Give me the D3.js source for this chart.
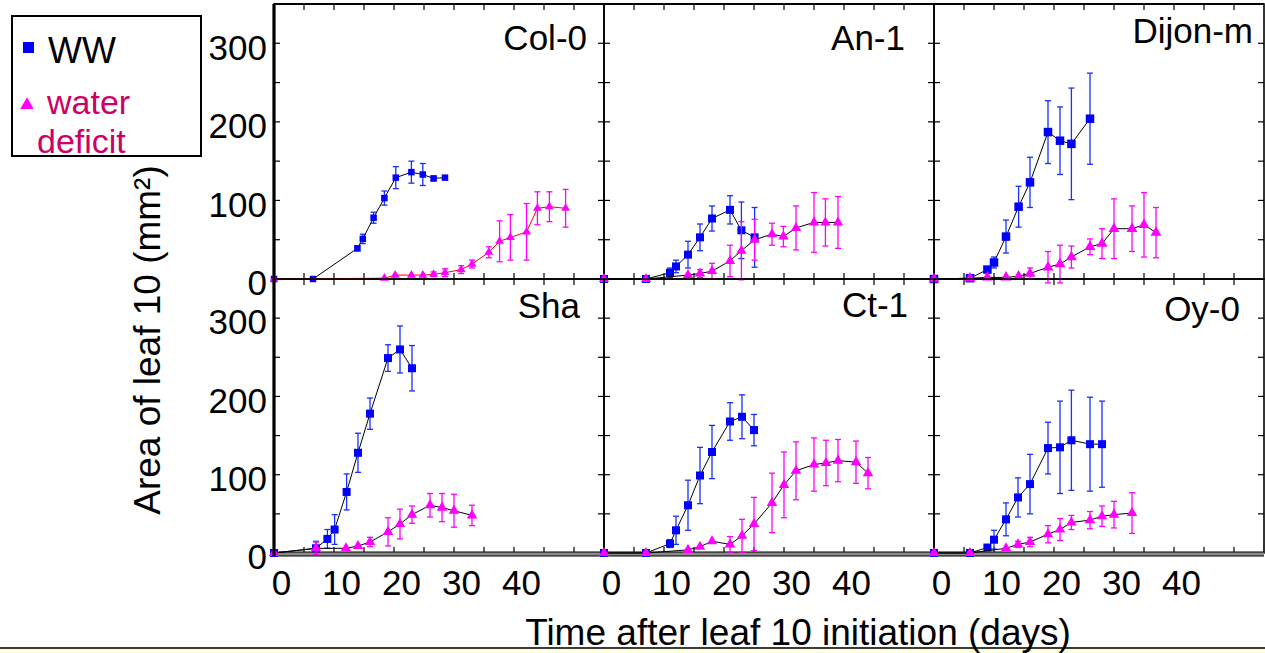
<!DOCTYPE html>
<html>
<head>
<meta charset="utf-8">
<script src="https://cdn.jsdelivr.net/npm/d3@7"></script>
<style>
  html, body { margin: 0; padding: 0; background: #fff; }
  svg { display: block; font-family: "Liberation Sans", Arial, Helvetica, sans-serif; }
</style>
</head>
<body>
<svg id="chart" width="1265" height="653"></svg>
<script>
// Leaf 10 area (mm²) over time after initiation (days), mean and SD,
// for six Arabidopsis accessions under well-watered (WW) and water-deficit conditions.
// Each row: [day, mean area, sd]
const genotypes = ["Col-0", "An-1", "Dijon-m", "Sha", "Ct-1", "Oy-0"];

const col0WW = [[0,0,0],[6.5,0,0],[13.9,39,3],[14.8,51,6],[16.6,78,7],[18.4,103,9],[20.3,129,14],[22.9,136,14],[24.8,133,14],[26.6,128,3],[28.5,129,0]];
const col0WD = [[0,0,0],[18.4,1,0],[20.2,5,0],[22.9,5,0],[24.8,5,0],[26.6,6,3],[28.5,8,5],[31.2,12,5],[33,19,5],[35.8,34,7],[37.6,48,26],[39.4,53,29],[42.1,60,36],[43.9,90,21],[45.9,92,19],[48.6,90,24]];

const an1WW = [[0,0,0],[7,0,0],[11,8,6],[12,16,8],[14,31,17],[16,53,17],[18,77,16],[21,88,18],[22.9,62,36],[25.1,53,38]];
const an1WD = [[0,0,0],[7,0,0],[14,5,0],[16,7,5],[18,10,10],[21,23,20],[22.9,36,37],[25.1,50,26],[28,57,14],[29.9,54,13],[32,65,28],[35,72,38],[36.9,72,30],[39,72,33]];

const dijonWW = [[0,0,0],[6,1,0],[8.9,12,3],[10,21,7],[12,54,21],[14.1,92,26],[16,123,32],[19,187,40],[21,176,43],[22.9,172,71],[26,204,58]];
const dijonWD = [[0,0,0],[6,1,0],[8.9,2,0],[12,2,0],[14.1,3.5,0],[16,7,7],[19,15,20],[21,19,24],[22.9,28,14],[26,41,10],[28,45,19],[30,64,38],[33,64,29],[35,69,41],[37,59,32]];

const shaWW = [[0,0,0],[7,6,9],[8.9,18,12],[10.1,30,19],[12.1,78,23],[14,128,25],[16,178,20],[19,249,17],[21,260,30],[23,236,29]];
const shaWD = [[0,0,0],[7,6,8],[12,6,0],[14,9,0],[16,14,6],[19,27,18],[21,37,19],[23,49,11],[26,61,15],[28,58,18],[30,54,21],[33,48,13]];

const ct1WW = [[0,0,0],[7,0,0],[11,12,5],[12,29,18],[14,61,32],[16,99,36],[18,129,34],[21,168,24],[23,174,28],[25,157,20]];
const ct1WD = [[0,0,0],[7,0,0],[14,4,0],[16,8,0],[18,15,0],[21,11,10],[23,22,21],[25,37,34],[28,64,38],[30,87,42],[32,105,37],[35,113,34],[37,115,29],[39,118,27],[42,116,27],[44,102,20]];

const oy0WW = [[0,0,0],[6,0,0],[8.9,7,0],[10,17,12],[12,43,21],[14,71,25],[16,88,38],[19,134,33],[21,135,59],[22.9,144,64],[26,139,60],[28,139,55]];
const oy0WD = [[0,0,0],[6,0,0],[12,6,0],[14,11,4],[16,14,6],[19,24,11],[21,30,14],[22.9,39,9],[26,42,11],[28,47,13],[30,49,17],[33,51,26]];

const wwSeries = [col0WW, an1WW, dijonWW, shaWW, ct1WW, oy0WW];
const wdSeries = [col0WD, an1WD, dijonWD, shaWD, ct1WD, oy0WD];

const xTickLabels = [0, 10, 20, 30, 40];
const yTickLabels = [0, 100, 200, 300];
const legendLabels = ["WW", "water", "deficit"];
const xTitle = "Time after leaf 10 initiation (days)";
const yTitle = "Area of leaf 10 (mm²)";

// ---- layout ----
const W = 1265, H = 653;
const plotLeft = 274, panelW = 330;
const rowTop = [4, 279], rowBottom = [279, 553];
const xDomain = [0, 55], yDomain = [0, 350];

const blue = "#0000ff", blueBar = "#1830ff";
const pink = "#ff00ff";
const legendPink = "#cc0066";

// title placement within each panel: [inset from right edge, baseline below panel top]
const titlePlace = [[17, 46], [29, 46], [11, 39], [24, 39], [26, 38], [24, 42]];
// marker sizes: Col-0 is drawn with smaller markers
const squareSize = [6.5, 8, 8.5, 8, 8, 8];
const triSize = [34, 46, 52, 48, 48, 48];
const wdLineColor = ["#ff0000", "#000", "#000", "#000", "#000", "#000"];

const svg = d3.select("#chart");

svg.append("rect").attr("width", W).attr("height", H).attr("fill", "#fff");

// bottom strip
svg.append("rect").attr("x", 0).attr("y", 648).attr("width", W).attr("height", 5).attr("fill", "#ffffdc");
svg.append("line").attr("x1", 0).attr("x2", W).attr("y1", 648).attr("y2", 648)
  .attr("stroke", "#3a3a3a").attr("stroke-width", 2);

genotypes.forEach((name, i) => {
  const col = i % 3, row = Math.floor(i / 3);
  const x0 = plotLeft + col * panelW, x1 = x0 + panelW;
  const y0 = rowTop[row], y1 = rowBottom[row];
  const x = d3.scaleLinear().domain(xDomain).range([x0, x1]);
  const y = d3.scaleLinear().domain(yDomain).range([y1, y0]);
  const g = svg.append("g").attr("class", "panel");

  // frame
  g.append("rect").attr("x", x0).attr("y", y0).attr("width", panelW).attr("height", y1 - y0)
    .attr("fill", "none").attr("stroke", "#000").attr("stroke-width", 1.6);

  // inward tick marks on all sides
  const tk = 6;
  y.ticks(7).filter(v => v > yDomain[0] && v < yDomain[1]).forEach(v => {
    g.append("line").attr("x1", x0).attr("x2", x0 + tk).attr("y1", y(v)).attr("y2", y(v)).attr("stroke", "#000").attr("stroke-width", 1.2);
    g.append("line").attr("x1", x1 - tk).attr("x2", x1).attr("y1", y(v)).attr("y2", y(v)).attr("stroke", "#000").attr("stroke-width", 1.2);
  });
  x.ticks(12).filter(v => v > xDomain[0] && v < xDomain[1]).forEach(v => {
    g.append("line").attr("x1", x(v)).attr("x2", x(v)).attr("y1", y0).attr("y2", y0 + tk).attr("stroke", "#000").attr("stroke-width", 1.2);
    g.append("line").attr("x1", x(v)).attr("x2", x(v)).attr("y1", y1 - tk).attr("y2", y1 + (row === 1 ? 3 : 0)).attr("stroke", "#000").attr("stroke-width", 1.2);
  });

  // bottom row: heavy baseline
  if (row === 1) {
    g.append("line").attr("x1", x0).attr("x2", x1).attr("y1", y1 + 1).attr("y2", y1 + 1)
      .attr("stroke", "#8a8a8a").attr("stroke-width", 4);
    g.append("line").attr("x1", x0).attr("x2", x1).attr("y1", y1 - 1).attr("y2", y1 - 1)
      .attr("stroke", "#000").attr("stroke-width", 1.2);
    g.append("line").attr("x1", x0).attr("x2", x1).attr("y1", y1 + 3).attr("y2", y1 + 3)
      .attr("stroke", "#000").attr("stroke-width", 1);
  }

  // y labels on first column
  if (col === 0) {
    g.append("g").attr("transform", `translate(${x0},0)`)
      .call(d3.axisLeft(y).tickValues(yTickLabels).tickSize(0).tickPadding(7))
      .call(a => a.select(".domain").remove())
      .call(a => a.selectAll("text").attr("dy", "0.45em")
        .attr("font-size", 35).attr("font-family", "Liberation Sans, Arial, sans-serif").attr("fill", "#000"));
  }
  // x labels on bottom row
  if (row === 1) {
    g.append("g").attr("transform", `translate(0,${y1})`)
      .call(d3.axisBottom(x).tickValues(xTickLabels).tickSize(0).tickPadding(17))
      .call(a => a.select(".domain").remove())
      .call(a => a.selectAll("text").attr("dx", 7)
        .attr("font-size", 35).attr("font-family", "Liberation Sans, Arial, sans-serif").attr("fill", "#000"));
  }

  const line = d3.line().x(d => x(d[0])).y(d => y(d[1]));
  const cap = 3;

  function drawSeries(data, barColor, lineColor) {
    const bars = data.filter(d => d[2] > 0);
    const eb = g.append("g").attr("stroke", barColor).attr("stroke-width", 1.3);
    bars.forEach(d => {
      const cx = x(d[0]), lo = y(d[1] - d[2]), hi = y(d[1] + d[2]);
      eb.append("line").attr("x1", cx).attr("x2", cx).attr("y1", lo).attr("y2", hi);
      eb.append("line").attr("x1", cx - cap).attr("x2", cx + cap).attr("y1", lo).attr("y2", lo);
      eb.append("line").attr("x1", cx - cap).attr("x2", cx + cap).attr("y1", hi).attr("y2", hi);
    });
    g.append("path").datum(data).attr("d", line).attr("fill", "none")
      .attr("stroke", lineColor).attr("stroke-width", 1);
  }

  // WW series
  const ww = wwSeries[i], wd = wdSeries[i];
  drawSeries(ww, blueBar, "#000");
  const s = squareSize[i];
  g.append("g").selectAll("rect").data(ww).join("rect")
    .attr("x", d => x(d[0]) - s / 2).attr("y", d => y(d[1]) - s / 2)
    .attr("width", s).attr("height", s).attr("fill", blue);

  // water-deficit series
  drawSeries(wd, pink, wdLineColor[i]);
  const tri = d3.symbol().type(d3.symbolTriangle).size(triSize[i]);
  g.append("g").selectAll("path").data(wd).join("path")
    .attr("transform", d => `translate(${x(d[0])},${y(d[1])})`)
    .attr("d", tri).attr("fill", pink);

  // panel title
  g.append("text").attr("x", x1 - titlePlace[i][0]).attr("y", y0 + titlePlace[i][1])
    .attr("text-anchor", "end").attr("font-size", 35).attr("fill", "#000").text(name);
});

// heavy outer left axis and top edge
svg.append("line").attr("x1", plotLeft).attr("x2", plotLeft).attr("y1", rowTop[0]).attr("y2", rowBottom[1] + 3)
  .attr("stroke", "#000").attr("stroke-width", 3.2);
svg.append("line").attr("x1", plotLeft).attr("x2", plotLeft + 3 * panelW).attr("y1", rowTop[0]).attr("y2", rowTop[0])
  .attr("stroke", "#000").attr("stroke-width", 2);

// axis titles
svg.append("text").attr("x", 798).attr("y", 645).attr("text-anchor", "middle")
  .attr("font-size", 37).attr("fill", "#000").text(xTitle);
svg.append("text").attr("transform", "translate(160,340) rotate(-90)").attr("text-anchor", "middle")
  .attr("font-size", 37).attr("fill", "#000").text(yTitle);

// legend
const lg = svg.append("g");
lg.append("rect").attr("x", 12).attr("y", 16).attr("width", 189).attr("height", 140)
  .attr("fill", "#fff").attr("stroke", "#000").attr("stroke-width", 2);
lg.append("rect").attr("x", 23).attr("y", 42).attr("width", 11).attr("height", 11).attr("fill", blue);
lg.append("path").attr("transform", "translate(27,105)")
  .attr("d", d3.symbol().type(d3.symbolTriangle).size(80)).attr("fill", pink);
lg.append("text").attr("x", 48).attr("y", 63).attr("font-size", 36).attr("fill", "#000").text(legendLabels[0]);
lg.append("text").attr("x", 47).attr("y", 114).attr("font-size", 34).attr("fill", legendPink).text(legendLabels[1]);
lg.append("text").attr("x", 37).attr("y", 153).attr("font-size", 34).attr("fill", legendPink).text(legendLabels[2]);
</script>
</body>
</html>
